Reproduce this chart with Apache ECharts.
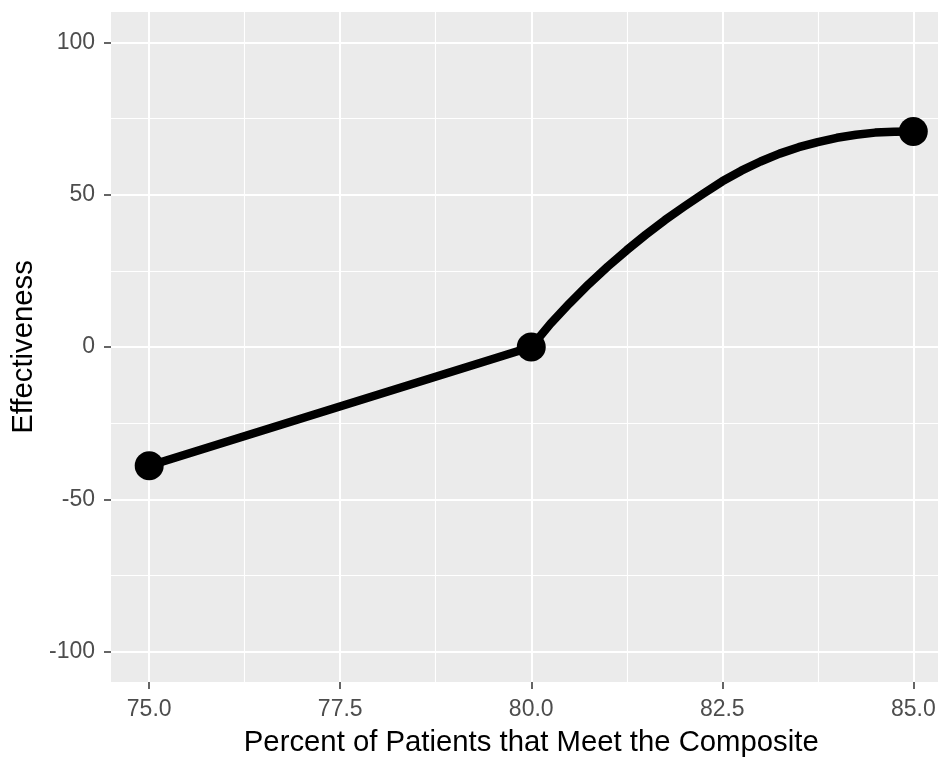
<!DOCTYPE html>
<html>
<head>
<meta charset="utf-8">
<script src="https://cdn.jsdelivr.net/npm/echarts@6/dist/echarts.min.js"></script>
<style>
html,body{margin:0;padding:0;background:#fff;}
#chart{width:938px;height:758px;}
</style>
</head>
<body>
<div id="chart"></div>
<script>
// Points observed in the data
const pointX = [75, 80, 85];
const pointY = [-39, 0, 70.8];
// Straight segment between the first two points
const segX = [75, 80];
const segY = [-39, 0];
// Curved part of the drawn line
const curveX = [80, 80.25, 80.5, 80.75, 81, 81.25, 81.5, 81.75, 82, 82.25, 82.5, 82.75, 83, 83.25, 83.5, 83.75, 84, 84.25, 84.5, 84.75, 85];
const curveY = [0, 7.6, 14.3, 20.6, 26.4, 31.8, 36.9, 41.7, 46.1, 50.3, 54.4, 57.9, 60.9, 63.5, 65.6, 67.3, 68.7, 69.7, 70.4, 70.7, 70.8];
// Tick labels
const xTicks = [75, 77.5, 80, 82.5, 85];
const xMinor = [76.25, 78.75, 81.25, 83.75];
const yTicks = [-100, -50, 0, 50, 100];
const yMinor = [-75, -25, 25, 75];
const xTitle = 'Percent of Patients that Meet the Composite';
const yTitle = 'Effectiveness';

const FONT = "'Liberation Sans', Arial, sans-serif";
const chart = echarts.init(document.getElementById('chart'), null, {renderer: 'canvas'});

const segData = segX.map((x, i) => [x, segY[i]]);
const curveData = curveX.map((x, i) => [x, curveY[i]]);
const pointData = pointX.map((x, i) => [x, pointY[i]]);

const gridLine = {show: true, lineStyle: {color: '#FFFFFF', width: 2}};
const minorLine = {show: true, lineStyle: {color: '#FFFFFF', width: 1.1}};
const lineStyle = {color: '#000000', width: 8.5, cap: 'round', join: 'round'};

chart.setOption({
  animation: false,
  backgroundColor: '#FFFFFF',
  grid: {
    left: 111, top: 12, width: 840.5, height: 670,
    containLabel: false, outerBoundsMode: 'none',
    show: true, backgroundColor: '#EBEBEB', borderWidth: 0
  },
  xAxis: [
    {
      type: 'value', min: 74.5, max: 85.5, position: 'bottom',
      axisLine: {show: false, onZero: false},
      axisTick: {show: true, length: 7, customValues: xTicks, lineStyle: {color: '#333333', width: 1.5}},
      axisLabel: {show: true, customValues: xTicks, margin: 16, color: '#4D4D4D', fontSize: 23, fontFamily: FONT,
                  formatter: v => Number(v).toFixed(1)},
      splitLine: gridLine,
      name: xTitle, nameLocation: 'middle', nameGap: 46,
      nameTextStyle: {color: '#000000', fontSize: 29.3, fontFamily: FONT}
    },
    {
      type: 'value', min: 74.5, max: 85.5, position: 'top',
      axisLine: {show: false, onZero: false},
      axisTick: {show: false, customValues: xMinor},
      axisLabel: {show: false, customValues: xMinor},
      splitLine: minorLine
    }
  ],
  yAxis: [
    {
      type: 'value', min: -110, max: 110, position: 'left',
      axisLine: {show: false, onZero: false},
      axisTick: {show: true, length: 7, customValues: yTicks, lineStyle: {color: '#333333', width: 1.5}},
      axisLabel: {show: true, customValues: yTicks, margin: 16, color: '#4D4D4D', fontSize: 23, fontFamily: FONT},
      splitLine: gridLine,
      name: yTitle, nameLocation: 'middle', nameGap: 68, nameRotate: 90,
      nameTextStyle: {color: '#000000', fontSize: 29.3, fontFamily: FONT}
    },
    {
      type: 'value', min: -110, max: 110, position: 'right',
      axisLine: {show: false, onZero: false},
      axisTick: {show: false, customValues: yMinor},
      axisLabel: {show: false, customValues: yMinor},
      splitLine: minorLine
    }
  ],
  series: [
    {
      type: 'line', xAxisIndex: 0, yAxisIndex: 0,
      data: segData, smooth: false, showSymbol: false, symbol: 'none',
      lineStyle: lineStyle, z: 3
    },
    {
      type: 'line', xAxisIndex: 0, yAxisIndex: 0,
      data: curveData, smooth: false, showSymbol: false, symbol: 'none',
      lineStyle: lineStyle, z: 3
    },
    {
      type: 'scatter', xAxisIndex: 0, yAxisIndex: 0,
      data: pointData, symbol: 'circle', symbolSize: 29,
      itemStyle: {color: '#000000', opacity: 1},
      z: 4
    }
  ]
});
</script>
</body>
</html>
